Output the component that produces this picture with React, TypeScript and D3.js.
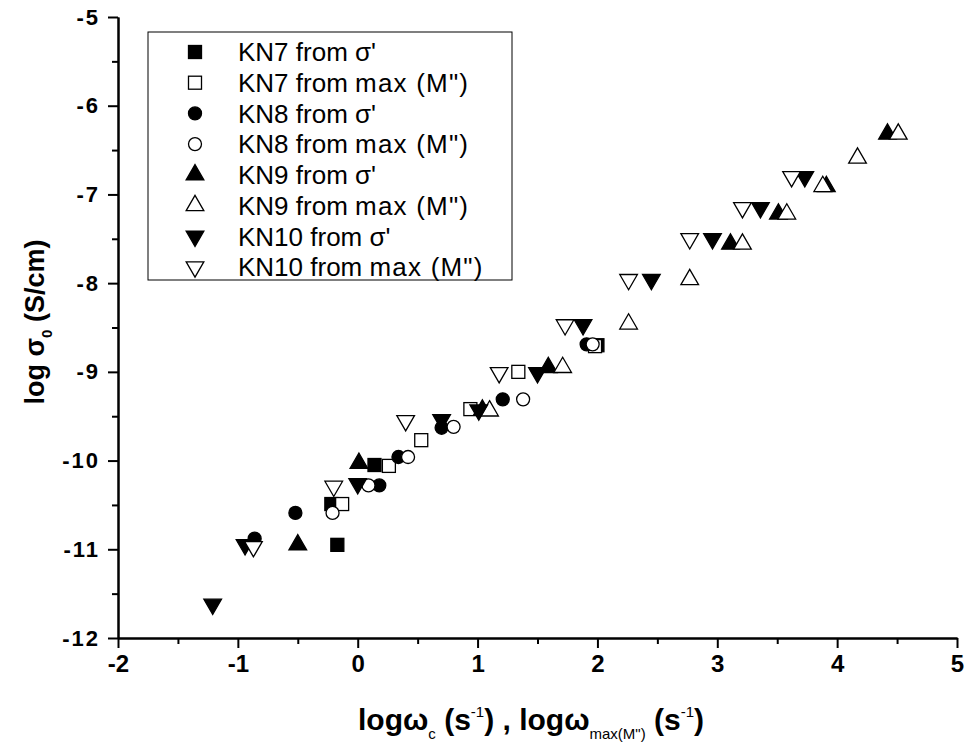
import React, { useEffect, useRef } from "react";
import * as d3 from "d3";

// [log ω, log σ0] pairs for each sample and method
const kn7FromSigma: [number, number][] = [
  [-0.17, -10.95], [-0.22, -10.49], [0.14, -10.05], [2.0, -8.7],
];
const kn7FromMax: [number, number][] = [
  [-0.13, -10.49], [0.26, -10.06], [0.53, -9.77], [0.94, -9.42], [1.34, -9.0], [1.98, -8.71],
];
const kn8FromSigma: [number, number][] = [
  [-0.86, -10.88], [-0.52, -10.59], [0.18, -10.28], [0.34, -9.96], [0.7, -9.63], [1.21, -9.31], [1.91, -8.69],
];
const kn8FromMax: [number, number][] = [
  [-0.21, -10.59], [0.09, -10.28], [0.42, -9.96], [0.8, -9.62], [1.38, -9.31], [1.96, -8.69],
];
const kn9FromSigma: [number, number][] = [
  [-0.5, -10.95], [0.01, -10.03], [1.04, -9.43], [1.59, -8.95], [3.11, -7.56], [3.51, -7.22], [3.91, -6.91], [4.42, -6.32],
];
const kn9FromMax: [number, number][] = [
  [1.1, -9.44], [1.71, -8.95], [2.26, -8.46], [2.77, -7.96], [3.21, -7.56], [3.58, -7.22], [3.88, -6.91], [4.17, -6.59], [4.51, -6.32],
];
const kn10FromSigma: [number, number][] = [
  [-1.21, -11.62], [-0.94, -10.95], [0.0, -10.26], [0.7, -9.54], [1.01, -9.43], [1.5, -9.01], [1.88, -8.47], [2.45, -7.96], [2.96, -7.5], [3.36, -7.15], [3.73, -6.8],
];
const kn10FromMax: [number, number][] = [
  [-0.87, -10.97], [-0.2, -10.29], [0.4, -9.55], [1.18, -9.01], [1.73, -8.47], [2.26, -7.96], [2.77, -7.5], [3.21, -7.15], [3.62, -6.8],
];

const seriesNames = ["KN7", "KN7", "KN8", "KN8", "KN9", "KN9", "KN10", "KN10"];
const seriesMethods = ["σ'", "max", "σ'", "max", "σ'", "max", "σ'", "max"];
const seriesShapes = ["square", "square", "circle", "circle", "up", "up", "down", "down"];
const seriesFilled = [true, false, true, false, true, false, true, false];
const seriesData = [
  kn7FromSigma, kn7FromMax, kn8FromSigma, kn8FromMax,
  kn9FromSigma, kn9FromMax, kn10FromSigma, kn10FromMax,
];

const xTickValues = [-2, -1, 0, 1, 2, 3, 4, 5];
const yTickValues = [-12, -11, -10, -9, -8, -7, -6, -5];

const W = 968;
const H = 754;
const M = { left: 118, right: 957, top: 17, bottom: 638 };

const x = d3.scaleLinear().domain([-2, 5]).range([M.left, M.right]);
const y = d3.scaleLinear().domain([-12, -5]).range([M.bottom, M.top]);

const tickFont = "'Liberation Sans Narrow', 'Arial Narrow', 'Liberation Sans', Arial, sans-serif";
const textFont = "'Liberation Sans', Arial, sans-serif";

function Marker({ shape, filled, cx, cy }: { shape: string; filled: boolean; cx: number; cy: number }) {
  const fill = filled ? "#000" : "#fff";
  const stroke = "#000";
  const sw = 1.3;
  if (shape === "square") {
    const s = 13;
    return <rect x={cx - s / 2} y={cy - s / 2} width={s} height={s} fill={fill} stroke={stroke} strokeWidth={sw} />;
  }
  if (shape === "circle") {
    return <circle cx={cx} cy={cy} r={6.5} fill={fill} stroke={stroke} strokeWidth={sw} />;
  }
  const path = d3.symbol().type(d3.symbolTriangle).size(135)() as string;
  const rot = shape === "down" ? 180 : 0;
  return <path d={path} transform={`translate(${cx},${cy}) rotate(${rot})`} fill={fill} stroke={stroke} strokeWidth={sw} />;
}

export default function App() {
  const xAxisRef = useRef<SVGGElement>(null);
  const yAxisRef = useRef<SVGGElement>(null);

  useEffect(() => {
    const gx = d3.select(xAxisRef.current!);
    gx.selectAll("*").remove();
    gx.append("g").call(
      d3.axisBottom(x).tickValues(d3.range(-1.5, 5, 1)).tickSize(6).tickSizeOuter(0).tickFormat(() => "")
    );
    gx.append("g").call(
      d3.axisBottom(x).tickValues(xTickValues).tickSize(10).tickSizeOuter(0).tickPadding(7)
        .tickFormat((d) => String(d))
    );
    gx.selectAll("path.domain").attr("stroke-width", 2);
    gx.selectAll(".tick line").attr("stroke-width", 2);
    gx.selectAll(".tick text")
      .attr("font-family", tickFont).attr("font-weight", "bold").attr("font-size", 24).attr("fill", "#000");

    const gy = d3.select(yAxisRef.current!);
    gy.selectAll("*").remove();
    gy.append("g").call(
      d3.axisLeft(y).tickValues(d3.range(-11.5, -5, 1)).tickSize(6).tickSizeOuter(0).tickFormat(() => "")
    );
    gy.append("g").call(
      d3.axisLeft(y).tickValues(yTickValues).tickSize(10).tickSizeOuter(0).tickPadding(8)
        .tickFormat((d) => String(d))
    );
    gy.selectAll("path.domain").attr("stroke-width", 2);
    gy.selectAll(".tick line").attr("stroke-width", 2);
    gy.selectAll(".tick text")
      .attr("font-family", textFont).attr("font-weight", "bold").attr("font-size", 22)
      .attr("letter-spacing", 2).attr("fill", "#000");
  }, []);

  const legendX = 148;
  const legendY = 32;
  const rowH = 30.7;

  return (
    <svg width={W} height={H} style={{ position: "absolute", left: 0, top: 0, background: "#fff" }}>
      <rect width={W} height={H} fill="#fff" />
      <g ref={xAxisRef} transform={`translate(0,${M.bottom})`} />
      <g ref={yAxisRef} transform={`translate(${M.left},0)`} />

      {seriesData.map((data, si) => (
        <g key={si}>
          {data.map(([vx, vy], i) => (
            <Marker key={i} shape={seriesShapes[si]} filled={seriesFilled[si]} cx={x(vx)} cy={y(vy)} />
          ))}
        </g>
      ))}

      <rect x={legendX} y={legendY} width={364} height={248} fill="#fff" stroke="#000" strokeWidth={1} />
      {seriesNames.map((name, i) => {
        const cy = legendY + 20 + i * rowH;
        return (
          <g key={i}>
            <Marker shape={seriesShapes[i]} filled={seriesFilled[i]} cx={195} cy={cy} />
            <text x={238} y={cy} dy="0.36em" fontFamily={textFont} fontSize={26} fill="#000">
              {name} from{" "}
              {seriesMethods[i] === "max"
                ? <tspan letterSpacing={1.2}>max (M")</tspan>
                : seriesMethods[i]}
            </text>
          </g>
        );
      })}

      <text
        transform={`translate(44,322) rotate(-90)`}
        textAnchor="middle" fontFamily={textFont} fontWeight="bold" fontSize={27} fill="#000"
      >
        log σ<tspan fontSize={15} dy={8}>0</tspan><tspan dy={-8}> (S/cm)</tspan>
      </text>

      <text
        x={531} y={730} textAnchor="middle"
        fontFamily={tickFont} fontWeight="bold" fontSize={30} fill="#000"
      >
        logω<tspan fontSize={15} fontWeight="normal" dy={9}>c</tspan>
        <tspan dy={-9}> (s</tspan><tspan fontSize={15} fontWeight="normal" dy={-13}>-1</tspan>
        <tspan dy={13}>) , logω</tspan><tspan fontSize={15} fontWeight="normal" dy={9}>max(M")</tspan>
        <tspan dy={-9}> (s</tspan><tspan fontSize={15} fontWeight="normal" dy={-13}>-1</tspan>
        <tspan dy={13}>)</tspan>
      </text>
    </svg>
  );
}
